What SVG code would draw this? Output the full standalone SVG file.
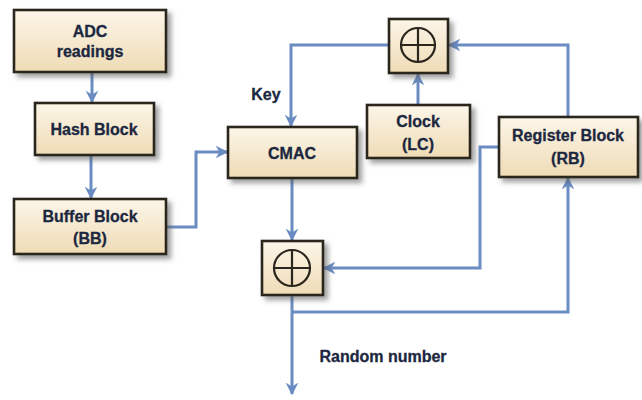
<svg xmlns="http://www.w3.org/2000/svg" width="642" height="400" viewBox="0 0 642 400">
  <defs>
    <linearGradient id="boxFill" x1="0" y1="0" x2="0" y2="1">
      <stop offset="0" stop-color="#fcf5e8"/>
      <stop offset="1" stop-color="#efdcb6"/>
    </linearGradient>
    <filter id="shadow" x="-20%" y="-20%" width="150%" height="160%">
      <feDropShadow dx="4" dy="4" stdDeviation="2.5" flood-color="#555" flood-opacity="0.55"/>
    </filter>
    <marker id="arrow" viewBox="0 0 10 10" refX="9" refY="5" markerWidth="4.2" markerHeight="4.2" orient="auto" markerUnits="strokeWidth">
      <path d="M0,0 L10,5 L0,10 L3,5 z" fill="#6a8cc2"/>
    </marker>
  </defs>
  <style>
    .box { fill: url(#boxFill); stroke: #2a251d; stroke-width: 2.6; filter: url(#shadow); }
    .lbl { font-family: "Liberation Sans", Arial, sans-serif; font-weight: bold; font-size: 16px; fill: #1c2740; text-anchor: middle; stroke: #1c2740; stroke-width: 0.3; }
    .wire { fill: none; stroke: #6a8cc2; stroke-width: 3; stroke-linejoin: miter; }
    .arr { marker-end: url(#arrow); }
    .xor { fill: none; stroke: #2a251d; stroke-width: 2.2; }
  </style>

  <rect width="642" height="400" fill="#ffffff"/>

  <!-- connectors -->
  <g id="connectors">
    <path class="wire arr" d="M92,73 V102"/>
    <path class="wire arr" d="M91,156 V198"/>
    <path class="wire arr" d="M166,227 H196 V152 H227"/>
    <path class="wire arr" d="M389,45 H291 V126"/>
    <path class="wire arr" d="M418,105 V74"/>
    <path class="wire arr" d="M568,117 V45 H449"/>
    <path class="wire arr" d="M292,179 V240"/>
    <path class="wire arr" d="M499,147 H480 V268 H324"/>
    <path class="wire arr" d="M292,296 V394"/>
    <path class="wire arr" d="M292,312 H568 V178"/>
  </g>

  <g id="adc">
    <rect class="box" x="14" y="10" width="152" height="62"/>
    <text class="lbl" x="90" y="37">ADC</text>
    <text class="lbl" x="90" y="57">readings</text>
  </g>
  <g id="hash">
    <rect class="box" x="35" y="103" width="119" height="52"/>
    <text class="lbl" x="94" y="135">Hash Block</text>
  </g>
  <g id="buffer">
    <rect class="box" x="14" y="199" width="152" height="55"/>
    <text class="lbl" x="90" y="222">Buffer Block</text>
    <text class="lbl" x="90" y="244">(BB)</text>
  </g>
  <g id="cmac">
    <rect class="box" x="228" y="127" width="129" height="51"/>
    <text class="lbl" x="292" y="159">CMAC</text>
  </g>
  <g id="xor-top">
    <rect class="box" x="389" y="19" width="59" height="54"/>
    <circle class="xor" cx="418" cy="45" r="17"/>
    <path class="xor" d="M401,45 H435 M418,28 V62"/>
  </g>
  <g id="clock">
    <rect class="box" x="367" y="105" width="103" height="53"/>
    <text class="lbl" x="418" y="127">Clock</text>
    <text class="lbl" x="418" y="150">(LC)</text>
  </g>
  <g id="register">
    <rect class="box" x="499" y="117" width="139" height="60"/>
    <text class="lbl" x="568" y="141">Register Block</text>
    <text class="lbl" x="568" y="164">(RB)</text>
  </g>
  <g id="xor-bottom">
    <rect class="box" x="262" y="241" width="61" height="54"/>
    <circle class="xor" cx="292" cy="268" r="18"/>
    <path class="xor" d="M274,268 H310 M292,250 V286"/>
  </g>

  <text class="lbl" x="266" y="100">Key</text>
  <text class="lbl" x="383" y="362">Random number</text>
</svg>
